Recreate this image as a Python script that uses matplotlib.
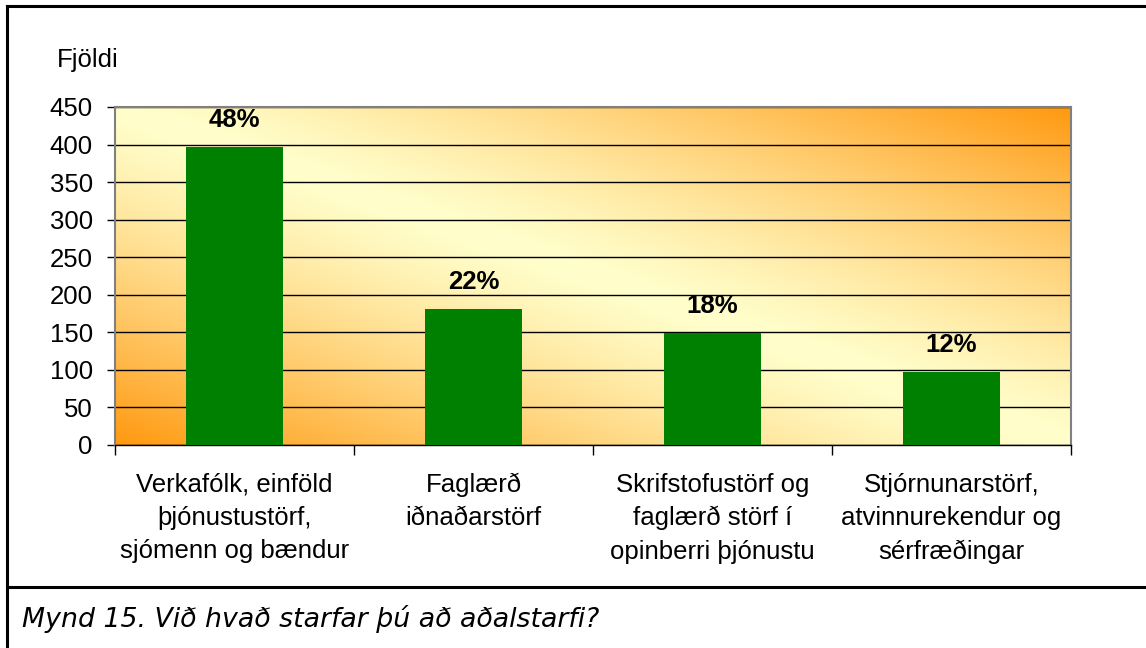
"""
Mynd 15 - starfsgreinar
"""

import numpy as np
import matplotlib
matplotlib.use('Agg')
import matplotlib.pyplot as plt
from matplotlib.lines import Line2D
from matplotlib.colors import to_rgb

categories = ['Verkafólk, einföld\nþjónustustörf,\nsjómenn og bændur',
              'Faglærð\niðnaðarstörf',
              'Skrifstofustörf og\nfaglærð störf í\nopinberri þjónustu',
              'Stjórnunarstörf,\natvinnurekendur og\nsérfræðingar']
counts = [397, 181, 149, 97]
pct_labels = ['48%', '22%', '18%', '12%']
yticks = [0, 50, 100, 150, 200, 250, 300, 350, 400, 450]

plt.rcParams['font.family'] = ['Liberation Sans', 'DejaVu Sans']

W, H = 1146, 648
fig = plt.figure(figsize=(W / 100, H / 100), dpi=100)
ax = fig.add_axes([115 / W, 1 - 445 / H, (1071 - 115) / W, (445 - 107) / H])

# diagonal gradient: orange in bottom-left / top-right, pale yellow band between
nx, ny = 400, 200
gx, gy = np.meshgrid(np.linspace(0, 1, nx), np.linspace(1, 0, ny))
t = np.clip(np.abs(gx + gy - 1), 0, 1) ** 1.25
c0 = np.array(to_rgb('#FFFFCC'))
c1 = np.array(to_rgb('#FF9910'))
img = c0 + (c1 - c0) * t[..., None]
ax.imshow(img, extent=[-0.5, 3.5, 0, 450], aspect='auto', zorder=0,
          interpolation='bilinear')

x = np.arange(len(categories))
ax.bar(x, counts, width=0.41, color='#008000', zorder=3)
for xi, v, lab in zip(x, counts, pct_labels):
    ax.annotate(lab, (xi, v), xytext=(0, 11), textcoords='offset points',
                ha='center', va='bottom', fontsize=18.5, fontweight='bold')

ax.set_xlim(-0.5, 3.5)
ax.set_ylim(0, 450)
ax.set_yticks(yticks)
ax.yaxis.grid(True, color='black', linewidth=1.0)
for gl in ax.get_ygridlines():
    gl.set_zorder(1)
ax.tick_params(axis='y', labelsize=18.5, length=6, width=1, pad=10)

ax.set_xticks(x)
ax.set_xticklabels(categories, fontsize=18.5, linespacing=1.48)
ax.set_xticks(np.arange(-0.5, 4, 1), minor=True)
ax.tick_params(axis='x', which='major', length=0, pad=20)
ax.tick_params(axis='x', which='minor', length=7, width=1)

for s in ['top', 'right', 'left']:
    ax.spines[s].set_color('#808080')
    ax.spines[s].set_linewidth(1.5)
ax.spines['bottom'].set_color('black')
ax.spines['bottom'].set_linewidth(1)

fig.text(57 / W, 1 - 60 / H, 'Fjöldi', fontsize=18.5, va='center', ha='left')
fig.text(22 / W, 1 - 619 / H, 'Mynd 15. Við hvað starfar þú að aðalstarfi?',
         fontsize=19.3, style='italic', family='DejaVu Sans', va='center', ha='left')

# outer frame
lw = 2.2
fig.add_artist(Line2D([7 / W, 7 / W], [0, 1 - 6 / H], color='black', linewidth=lw,
                      transform=fig.transFigure))
fig.add_artist(Line2D([7 / W, 1], [1 - 6 / H, 1 - 6 / H], color='black', linewidth=lw,
                      transform=fig.transFigure))
fig.add_artist(Line2D([7 / W, 1], [1 - 587 / H, 1 - 587 / H], color='black', linewidth=lw,
                      transform=fig.transFigure))

fig.savefig('out.png', dpi=100, facecolor='white')
